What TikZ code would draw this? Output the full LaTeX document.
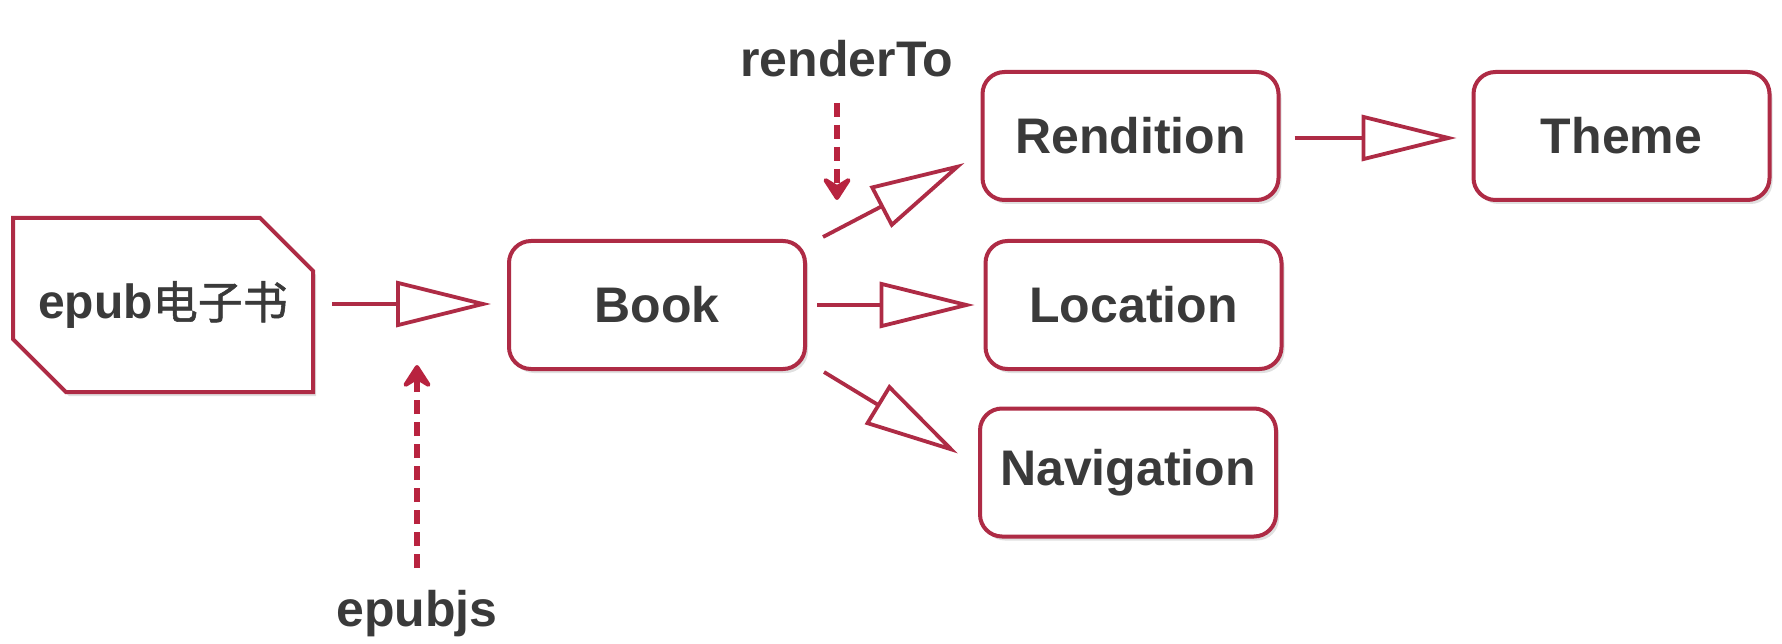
\documentclass[tikz,border=0pt]{standalone}
\usepackage{fontspec}
\setmainfont{Liberation Sans}
\newfontfamily\cjk[BoldFont={Noto Sans CJK SC}, BoldFeatures={FakeBold=1.2}]{Noto Sans CJK SC}
\usetikzlibrary{arrows.meta,shapes.misc,calc,shadows}
\definecolor{bord}{HTML}{AE2B45}
\definecolor{dashred}{HTML}{B8233F}
\definecolor{txt}{HTML}{3A3A3A}
\tikzset{
  shad/.style={drop shadow={shadow xshift=3pt, shadow yshift=-4pt, fill=black, opacity=0.12}},
  box/.style={draw=bord, line width=4pt, rounded corners=22pt, fill=white,
    minimum width=296pt, minimum height=128pt, inner sep=0pt,
    font=\fontsize{50}{60}\selectfont\bfseries, text=txt, shad},
  epubbox/.style={draw=bord, line width=4pt, fill=white, chamfered rectangle,
    chamfered rectangle corners={north east,south west},
    chamfered rectangle xsep=29pt, chamfered rectangle ysep=29pt,
    minimum width=300pt, minimum height=174pt, inner sep=0pt,
    font=\fontsize{48}{58}\selectfont\bfseries, text=txt, shad},
  lbl/.style={font=\fontsize{50}{60}\selectfont\bfseries, text=txt},
  flow/.style={draw=bord, line width=3.8pt,
    -{Triangle[length=95pt, width=46pt, fill=white]}},
  dasharrow/.style={draw=dashred, line width=6pt, dash pattern=on 14pt off 8pt,
    -{Stealth[length=28pt, width=36pt, inset=11pt, round]}}
}
\begin{document}
\begin{tikzpicture}[x=1pt, y=-1pt]
\useasboundingbox[fill=white] (0,0) rectangle (1782,644);
% nodes
\node[epubbox] (epub) at (163,305) {\raisebox{4pt}{epub{\cjk\fontsize{45}{55}\selectfont 电子书}}};
\node[box] (Book) at (657,305) {Book};
\node[box] (Rendition) at (1130.5,136) {Rendition};
\node[box] (Location) at (1133.5,305) {Location};
\node[box] (Navigation) at (1128,472.5) {Navigation};
\node[box] (Theme) at (1621.5,136) {Theme};
\node[lbl] (epubjs) at (417,614) {epubjs};
\node[lbl] (renderTo) at (847,59) {renderTo};
\coordinate (ejs) at (417,568);
\coordinate (ejt) at (417,365);
\coordinate (rts) at (837,103);
\coordinate (rtt) at (837,200);
% connectors
\draw[flow] ($(epub.east)+(17,-1)$) -- ($(Book.west)+(-16,-1)$);
\draw[flow] ($(Book.east)+(10,0)$) -- ($(Location.west)+(-9,0)$);
\draw[flow] ($(Book.north east)+(16,-2)$) -- ($(Rendition.south west)+(-16,-39)$);
\draw[flow] ($(Book.south east)+(17,1)$) -- ($(Navigation.north west)+(-20,47)$);
\draw[flow] ($(Rendition.east)+(14,2)$) -- ($(Theme.west)+(-15,2)$);
\draw[dasharrow] (ejs) -- (ejt);
\draw[dasharrow] (rts) -- (rtt);
\end{tikzpicture}
\end{document}
